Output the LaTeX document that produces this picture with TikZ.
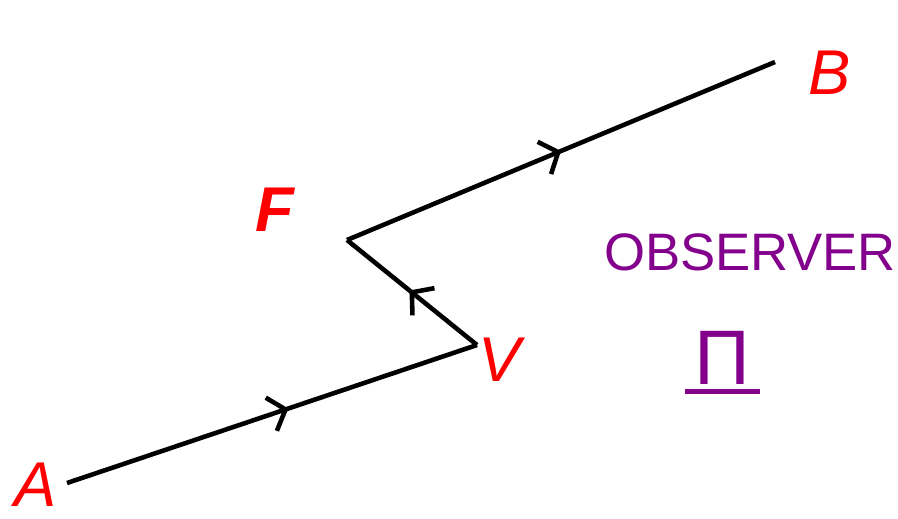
\documentclass[tikz,border=0pt]{standalone}
\usepackage{fontspec}
\setmainfont{Liberation Sans}
\usepackage{tikz}
\usetikzlibrary{arrows.meta,decorations.markings}
\definecolor{obspurple}{RGB}{130,0,140}

\begin{document}
\begin{tikzpicture}[font=\small,
  path/.style={line width=2.6pt,postaction={decorate},
    decoration={markings,mark=at position #1 with {\arrow[line width=2.6pt]{Straight Barb[length=3mm,width=7mm]}}}},
  point/.style={red,font=\fontsize{36}{36}\selectfont\itshape}]
\useasboundingbox (0,0) rectangle (17.96,-10.36);
\coordinate (A) at (1.34,-9.66);
\coordinate (V) at (9.54,-6.9);
\coordinate (F) at (6.94,-4.8);
\coordinate (B) at (15.5,-1.24);
\node[point] (lA) at (0.72,-9.7) {A};
\node[point] (lV) at (10.0,-7.2) {V};
\node[point,font=\fontsize{36}{36}\selectfont\bfseries\itshape] (lF) at (5.5,-4.2) {F};
\node[point] (lB) at (16.6,-1.45) {B};
\draw[path=0.54] (A) -- (V);
\draw[path=0.52] (V) -- (F);
\draw[path=0.5] (F) -- (B);
\node[obspurple,font=\fontsize{30}{30}\selectfont] (obs) at (15.0,-5.05) {OBSERVER};
\node[obspurple,font=\fontsize{44}{44}\selectfont,inner sep=1pt] (pi) at (14.45,-7.15) {Π};
\draw[obspurple,line width=2.4pt] ([xshift=-4pt,yshift=-3pt]pi.south west) -- ([xshift=4pt,yshift=-3pt]pi.south east);
\end{tikzpicture}
\end{document}
